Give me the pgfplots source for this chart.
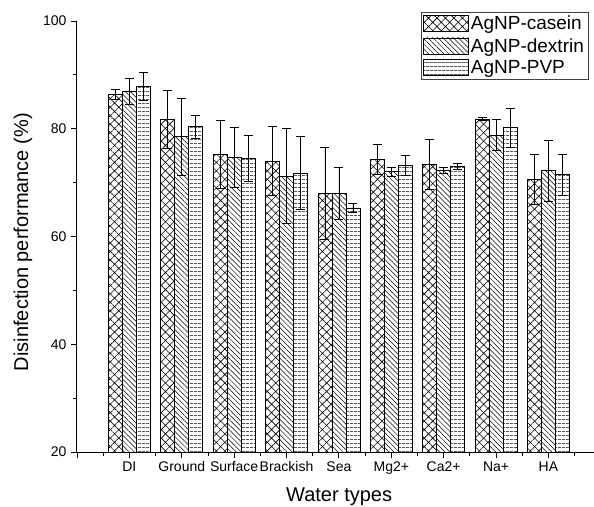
\documentclass[border=0pt]{standalone}
\usepackage{fontspec}
\setmainfont{Liberation Sans}
\usepackage{pgfplots}
\usepackage{pgfplotstable}
\pgfplotsset{compat=1.18}
\usetikzlibrary{patterns.meta}

\pgfplotstableread{
x y e
1 86.4 0.9
2 81.8 5.4
3 75.3 6.3
4 74.0 6.4
5 68.0 8.6
6 74.3 2.8
7 73.4 4.6
8 81.8 0.3
9 70.6 4.6
}\casein
\pgfplotstableread{
x y e
1 87.0 2.4
2 78.5 7.2
3 74.7 5.6
4 71.2 8.8
5 68.0 4.9
6 72.0 0.8
7 72.3 0.6
8 78.8 2.9
9 72.2 5.6
}\dextrin
\pgfplotstableread{
x y e
1 87.8 2.6
2 80.4 2.1
3 74.5 4.2
4 71.8 6.7
5 65.3 0.8
6 73.2 1.8
7 73.0 0.5
8 80.2 3.6
9 71.5 3.8
}\pvp

\pgfplotsset{
  myerr/.style={
    error bars/y dir=both, error bars/y explicit,
    error bars/error bar style={line width=0.8pt, black},
    error bars/error mark options={rotate=90, mark size=4.5pt, line width=0.8pt, black},
  },
  mylegend/.style={legend image code/.code={\draw[##1,line width=0.7pt] (0pt,-8pt) rectangle (45pt,8pt);}},
}

\begin{document}
\begin{tikzpicture}
\begin{axis}[
  at={(77pt,54pt)}, anchor=south west,
  scale only axis, width=517pt, height=431pt,
  xmin=0, xmax=9.87, ymin=20, ymax=100,
  axis x line*=bottom, axis y line*=left,
  axis line style={line width=1pt, -},
  ybar=0pt, bar width=14pt,
  xtick={0,...,9},
  xticklabels={,DI,Ground,Surface,Brackish,Sea,Mg2+,Ca2+,Na+,HA},
  minor xtick={0.5,1.5,...,9.5},
  ytick={20,40,60,80,100}, minor ytick={30,50,70,90},
  tick align=outside, major tick length=6pt, minor tick length=3.5pt,
  every tick/.style={black, line width=0.9pt},
  /pgf/number format/assume math mode=true,
  xticklabel style={font=\fontsize{14}{16}\selectfont},
  yticklabel style={font=\fontsize{14}{16}\selectfont, xshift=-1pt},
  xlabel={Water types}, ylabel={Disinfection performance (\%)},
  xlabel style={font=\fontsize{20}{23}\selectfont, at={(axis description cs:0.507,-0.1044)}, anchor=center},
  ylabel style={font=\fontsize{20}{23}\selectfont, at={(axis description cs:-0.1044,0.487)}, anchor=center},
  legend cell align=left,
  legend style={at={(axis description cs:0.665,1.0218)}, anchor=north west,
    draw=black!75, line width=0.8pt, font=\fontsize{19}{22}\selectfont,
    inner xsep=2pt, inner ysep=2pt, row sep=3pt,
    /tikz/every even column/.append style={column sep=2pt}},
]
\addplot[draw=black, line width=0.8pt, pattern={Hatch[angle=45,distance=6pt,line width=0.6pt]}, pattern color=black, mylegend, myerr]
  table[x=x, y=y, y error=e] {\casein};
\addplot[draw=black, line width=0.8pt, pattern={Lines[angle=-45,distance=3.6pt,line width=0.5pt]}, pattern color=black, mylegend, myerr]
  table[x=x, y=y, y error=e] {\dextrin};
\addplot[draw=black, line width=0.8pt, pattern={Lines[angle=0,distance=4pt,line width=0.5pt]}, pattern color=black, mylegend, myerr]
  table[x=x, y=y, y error=e] {\pvp};
\legend{AgNP-casein, AgNP-dextrin, AgNP-PVP}
\end{axis}
\pgfresetboundingbox
\path (0,0) rectangle (594pt,506pt);
\end{tikzpicture}
\end{document}
